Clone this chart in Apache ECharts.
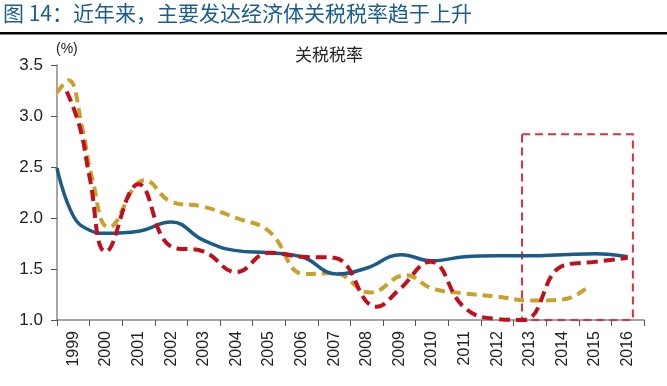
<!DOCTYPE html>
<html>
<head>
<meta charset="utf-8">
<script src="https://cdn.jsdelivr.net/npm/echarts@6/dist/echarts.min.js"></script>
<style>
html,body{margin:0;padding:0;background:#fff;}
#chart{width:667px;height:386px;}
</style>
</head>
<body>
<div id="chart"></div>
<script>
var categories = ['1999','2000','2001','2002','2003','2004','2005','2006','2007','2008','2009','2010','2011','2012','2013','2014','2015','2016'];
var yTicks = [1.0, 1.5, 2.0, 2.5, 3.0, 3.5];

var blueYears  = [1998.5, 1999, 1999.5, 2000, 2001, 2002, 2003, 2004, 2005, 2006, 2007.1, 2008, 2009.05, 2010, 2011, 2012, 2013, 2014, 2015, 2016];
var blueValues = [2.49, 2.02, 1.88, 1.85, 1.87, 1.96, 1.78, 1.68, 1.66, 1.62, 1.45, 1.51, 1.64, 1.58, 1.62, 1.63, 1.63, 1.64, 1.65, 1.62];

var redYears  = [1998.8, 1999.2, 1999.5, 2000, 2001, 2002, 2003, 2004, 2005, 2006, 2007, 2008.3, 2009, 2009.95, 2011, 2012, 2012.8, 2014, 2015, 2016];
var redValues = [3.24, 2.89, 2.40, 1.67, 2.33, 1.72, 1.67, 1.47, 1.66, 1.62, 1.61, 1.13, 1.30, 1.57, 1.12, 1.01, 1.00, 1.53, 1.57, 1.61];

var goldYears  = [1998.5, 1998.85, 1999.27, 1999.57, 2000.1, 2001.2, 2002, 2003, 2004, 2005, 2006.1, 2007, 2008.1, 2009.2, 2010, 2011, 2012, 2013, 2014, 2014.8];
var goldValues = [3.23, 3.35, 2.89, 2.40, 1.91, 2.37, 2.16, 2.11, 2.00, 1.87, 1.45, 1.46, 1.27, 1.44, 1.31, 1.26, 1.23, 1.19, 1.20, 1.33];

var boxYears = [2012.76, 2016.16];
var boxValues = [0.97, 2.82];

function pairs(xs, ys){ return xs.map(function(x,i){ return [x, ys[i]]; }); }

var chart = echarts.init(document.getElementById('chart'), null, {renderer:'canvas'});
chart.setOption({
  backgroundColor:'#fff',
  animation:false,
  grid:{left:57, right:23, top:65, bottom:66},
  graphic:[
    {type:'text', left:3, top:3, style:{text:'图 14：近年来，主要发达经济体关税税率趋于上升', fill:'#1b5e8e', font:'21px "Noto Sans CJK SC", sans-serif'}},
    {type:'rect', shape:{x:0, y:32, width:667, height:2.5}, style:{fill:'#000'}},
    {type:'text', left:56, top:42, style:{text:'(%)', fill:'#222', font:'14px "Liberation Sans", Arial, sans-serif'}},
    {type:'text', left:295, top:46, style:{text:'关税税率', fill:'#222', font:'17px "Noto Sans CJK SC", sans-serif'}}
  ],
  xAxis:[
    {type:'category', data:categories, boundaryGap:true,
     axisLine:{lineStyle:{color:'#888', width:1.5}},
     axisTick:{show:true, length:6, alignWithLabel:false, lineStyle:{color:'#555'}},
     axisLabel:{rotate:90, margin:11, color:'#222', fontSize:16, fontFamily:'"Liberation Sans", Arial, sans-serif'}},
    {type:'value', min:1998.5, max:2016.5, show:false}
  ],
  yAxis:{type:'value', min:yTicks[0], max:yTicks[yTicks.length-1], interval:0.5,
    axisLine:{show:true, lineStyle:{color:'#888', width:1.5}},
    axisTick:{show:true, length:6, lineStyle:{color:'#555'}},
    splitLine:{show:false},
    axisLabel:{margin:14, color:'#222', fontSize:17, fontFamily:'"Liberation Sans", Arial, sans-serif',
      formatter:function(v){ return v.toFixed(1); }}},
  series:[
    {type:'line', xAxisIndex:1, data:pairs(blueYears, blueValues), smooth:0.45, symbol:'none', clip:false,
     lineStyle:{color:'#1a5b87', width:3.5}, z:3},
    {type:'line', xAxisIndex:1, data:pairs(goldYears, goldValues), smooth:0.45, symbol:'none', clip:false,
     lineStyle:{color:'#c9a12a', width:4, type:[10,6]}, z:2},
    {type:'line', xAxisIndex:1, data:pairs(redYears, redValues), smooth:0.45, symbol:'none', clip:false,
     lineStyle:{color:'#c0101c', width:4, type:[11,6]}, z:4,
     markArea:{silent:true,
       itemStyle:{color:'rgba(0,0,0,0)', borderColor:'#e0303f', borderWidth:2, borderType:[8,5]},
       data:[[{coord:[boxYears[0], boxValues[1]]},{coord:[boxYears[1], boxValues[0]]}]]}}
  ]
});
</script>
</body>
</html>
